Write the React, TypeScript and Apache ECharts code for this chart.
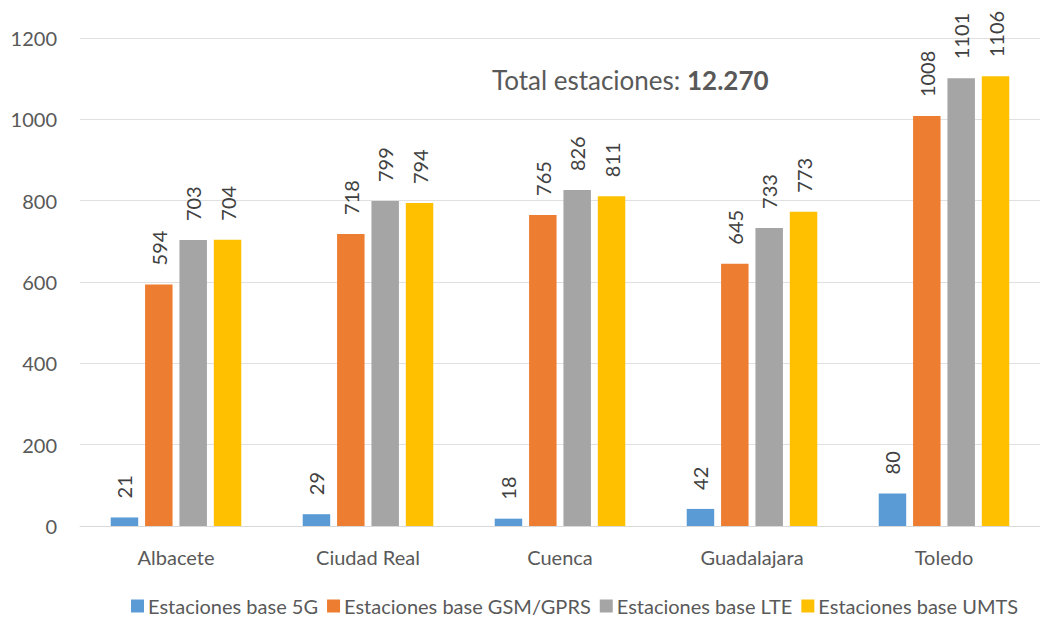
import React, { useEffect, useRef } from "react";
import * as echarts from "echarts";

const categories = ["Albacete", "Ciudad Real", "Cuenca", "Guadalajara", "Toledo"];
const seriesNames = [
  "Estaciones base 5G",
  "Estaciones base GSM/GPRS",
  "Estaciones base LTE",
  "Estaciones base UMTS",
];
const values5G = [21, 29, 18, 42, 80];
const valuesGSM = [594, 718, 765, 645, 1008];
const valuesLTE = [703, 799, 826, 733, 1101];
const valuesUMTS = [704, 794, 811, 773, 1106];
const colors = ["#5B9BD5", "#ED7D31", "#A5A5A5", "#FFC000"];
const totalLabel = "Total estaciones: ";
const totalValue = "12.270";

const FONT = "Lato, 'Open Sans', sans-serif";

export default function App() {
  const ref = useRef<HTMLDivElement>(null);
  useEffect(() => {
    if (!ref.current) return;
    const chart = echarts.init(ref.current, null, { renderer: "svg" });
    const allValues = [values5G, valuesGSM, valuesLTE, valuesUMTS];
    chart.setOption({
      animation: false,
      textStyle: { fontFamily: FONT },
      grid: { left: 80, right: -8, top: 38, bottom: 93, containLabel: false },
      legend: {
        bottom: -2,
        left: 126,
        itemWidth: 13,
        itemHeight: 13,
        itemGap: 9,
        icon: "rect",
        textStyle: { fontSize: 20, color: "#595959", fontFamily: FONT, padding: [0, 0, 0, -1] },
        data: seriesNames,
      },
      xAxis: {
        type: "category",
        data: categories,
        axisLine: { lineStyle: { color: "#D9D9D9", width: 1 } },
        axisTick: { show: false },
        axisLabel: { fontSize: 20, color: "#595959", margin: 21, fontFamily: FONT },
      },
      yAxis: {
        type: "value",
        min: 0,
        max: 1200,
        interval: 200,
        axisLine: { show: false },
        axisTick: { show: false },
        splitLine: { lineStyle: { color: "#E0E0E0", width: 1 } },
        axisLabel: {
          fontSize: 20,
          color: "#595959",
          margin: 23,
          fontFamily: FONT,
          formatter: (v: number) => String(v),
        },
      },
      graphic: [
        {
          type: "text",
          left: 492,
          top: 67,
          style: {
            text: "{a|" + totalLabel + "}{b|" + totalValue + "}",
            rich: {
              a: { fontSize: 26, fill: "#595959", fontFamily: FONT },
              b: { fontSize: 26, fill: "#595959", fontWeight: "bold", fontFamily: FONT },
            },
          },
        },
      ],
      series: seriesNames.map((name, i) => ({
        name,
        type: "bar",
        data: allValues[i],
        barGap: "25%",
        barCategoryGap: "32%",
        itemStyle: { color: colors[i] },
        label: {
          show: true,
          position: "top",
          rotate: 90,
          align: "left",
          verticalAlign: "middle",
          distance: 19,
          fontSize: 20,
          color: "#404040",
          fontFamily: FONT,
        },
      })),
    });
    return () => chart.dispose();
  }, []);
  return <div ref={ref} style={{ width: 1040, height: 619, position: "absolute", left: 0, top: 0 }} />;
}
